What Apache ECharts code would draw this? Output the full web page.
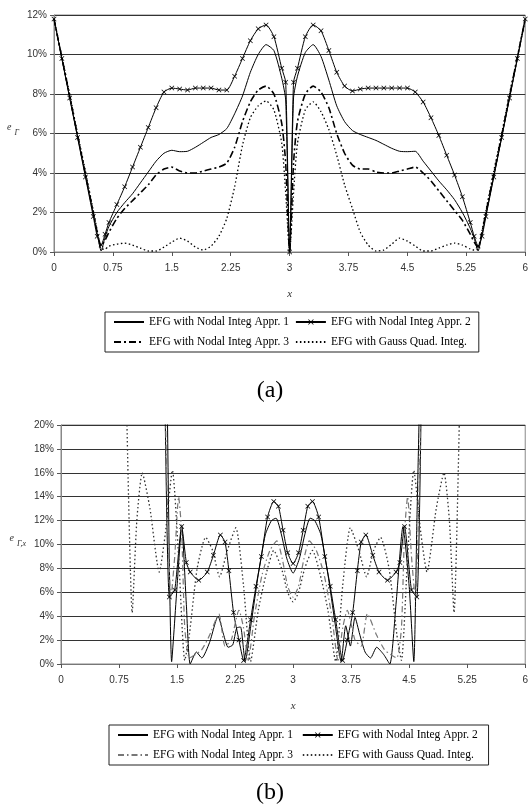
<!DOCTYPE html>
<html>
<head>
<meta charset="utf-8">
<title>EFG error plots (a) and (b)</title>
<script src="https://cdn.jsdelivr.net/npm/echarts@6/dist/echarts.min.js"></script>
<style>
    html, body { margin: 0; padding: 0; background: #fff; }
    #chart { width: 531px; height: 810px; }
</style>
</head>
<body>
<div id="chart"></div>
<script>
(function () {
    'use strict';

    // ---- data: chart (a), e_Gamma in % along x ----
    var xA = [0, 0.1, 0.2, 0.3, 0.4, 0.5, 0.55, 0.6, 0.65, 0.7, 0.8, 0.9, 1.0, 1.1, 1.2, 1.3, 1.4, 1.5, 1.6, 1.7,
        1.8, 1.9, 2.0, 2.1, 2.2, 2.3, 2.4, 2.5, 2.6, 2.7, 2.8, 2.9, 2.95, 3.0,
        3.05, 3.1, 3.2, 3.3, 3.4, 3.5, 3.6, 3.7, 3.8, 3.9, 4.0, 4.1, 4.2, 4.3, 4.4, 4.5, 4.6, 4.7,
        4.8, 4.9, 5.0, 5.1, 5.2, 5.3, 5.35, 5.4, 5.45, 5.5, 5.6, 5.7, 5.8, 5.9, 6.0];

    var appr1A = [11.8, 9.8, 7.8, 5.85, 3.9, 1.95, 0.95, 0.05, 0.75, 1.3, 2.0, 2.5, 2.95, 3.5, 4.05, 4.6, 5.0, 5.15, 5.08, 5.1,
        5.3, 5.55, 5.8, 5.95, 6.25, 7.0, 7.9, 9.1, 10.0, 10.5, 10.2, 8.8, 7.7, 0,
        7.8, 8.9, 10.1, 10.5, 9.9, 8.7, 7.4, 6.6, 6.15, 5.95, 5.8, 5.65, 5.45, 5.25, 5.1, 5.08, 5.1, 4.6,
        4.1, 3.6, 3.15, 2.65, 2.0, 1.2, 0.7, 0.05, 0.9, 1.9, 3.85, 5.8, 7.8, 9.8, 11.8];

    var appr2A = [11.8, 9.8, 7.8, 5.8, 3.8, 1.8, 0.8, 0.35, 0.9, 1.5, 2.4, 3.3, 4.3, 5.3, 6.3, 7.3, 8.1, 8.3, 8.25, 8.2,
        8.3, 8.3, 8.3, 8.2, 8.2, 8.9, 9.8, 10.7, 11.3, 11.5, 10.9, 9.3, 8.6, 0,
        8.6, 9.3, 10.9, 11.5, 11.2, 10.2, 9.1, 8.4, 8.15, 8.25, 8.3, 8.3, 8.3, 8.3, 8.3, 8.3, 8.1, 7.6,
        6.8, 5.9, 4.9, 3.9, 2.8, 1.5, 0.8, 0.3, 0.8, 1.8, 3.8, 5.8, 7.8, 9.8, 11.8];

    var appr3A = [11.8, 9.85, 7.9, 5.9, 3.95, 2.0, 1.0, 0.3, 0.6, 1.0, 1.7, 2.2, 2.6, 3.0, 3.4, 3.9, 4.2, 4.3, 4.1, 4.0,
        4.0, 4.1, 4.2, 4.3, 4.5, 5.3, 6.6, 7.6, 8.2, 8.4, 8.0, 6.5, 4.5, 0,
        4.5, 6.6, 8.0, 8.4, 8.1, 7.3, 6.0, 5.0, 4.4, 4.2, 4.2, 4.05, 4.0, 4.0, 4.1, 4.2, 4.3, 4.0,
        3.6, 3.1, 2.6, 2.1, 1.6, 0.9, 0.5, 0.25, 1.0, 2.0, 3.95, 5.9, 7.9, 9.85, 11.8];

    var gaussA = [11.8, 9.9, 8.0, 6.0, 4.1, 2.1, 1.1, 0.15, 0.15, 0.3, 0.4, 0.45, 0.35, 0.2, 0.05, 0.05, 0.25, 0.5, 0.7, 0.55,
        0.25, 0.1, 0.3, 0.8, 1.7, 3.3, 5.4, 6.8, 7.4, 7.65, 7.2, 5.5, 3.0, 0,
        3.0, 5.5, 7.2, 7.6, 7.1, 6.2, 4.9, 3.4, 2.2, 1.0, 0.35, 0.05, 0.1, 0.4, 0.7, 0.55, 0.3, 0.05,
        0.05, 0.2, 0.35, 0.45, 0.35, 0.15, 0.1, 0.15, 1.1, 2.1, 4.1, 6.0, 8.0, 9.9, 11.8];

    // ---- data: chart (b), e_Gamma,x in % (values above 20 run off the top) ----
    var appr1Bx = [1.37, 1.43, 1.50, 1.56, 1.62, 1.67, 1.75, 1.82, 1.92, 2.03, 2.10, 2.16, 2.22, 2.27, 2.32, 2.38,
        2.46, 2.55, 2.64, 2.72, 2.78, 2.85, 2.92, 3.00, 3.08, 3.15, 3.22, 3.28, 3.36, 3.45, 3.54, 3.62,
        3.68, 3.74, 3.80, 3.86, 3.93, 4.00, 4.08, 4.17, 4.25, 4.33, 4.42, 4.50, 4.56, 4.60, 4.64];
    var appr1By = [24, 0.2, 6.5, 11.5, 5.0, 0.0, 1.0, 0.5, 1.8, 4.0, 2.5, 1.4, 1.6, 3.0, 3.1, 0.2,
        3.5, 7.5, 10.8, 12.0, 12.2, 10.8, 8.8, 7.6, 8.8, 10.8, 12.2, 12.0, 10.8, 7.5, 3.5, 0.2,
        3.2, 1.5, 3.9, 2.5, 1.0, 0.5, 1.4, 0.8, 0.0, 5.0, 11.5, 6.5, 0.2, 12, 24];

    var appr2Bx = [1.34, 1.40, 1.47, 1.56, 1.62, 1.67, 1.78, 1.89, 1.97, 2.06, 2.12, 2.17, 2.23, 2.30, 2.36, 2.45,
        2.52, 2.59, 2.67, 2.75, 2.81, 2.87, 2.93, 3.00, 3.07, 3.13, 3.19, 3.25, 3.33, 3.41, 3.48, 3.55,
        3.64, 3.70, 3.77, 3.83, 3.88, 3.94, 4.03, 4.11, 4.22, 4.33, 4.38, 4.44, 4.53, 4.60, 4.66];
    var appr2By = [24, 5.6, 6.2, 11.5, 8.5, 7.7, 7.0, 7.7, 9.1, 10.8, 10.2, 7.8, 4.3, 2.0, 0.3, 3.7,
        6.5, 9.0, 12.3, 13.6, 13.2, 11.2, 9.3, 8.4, 9.3, 11.2, 13.2, 13.6, 12.3, 9.0, 6.5, 3.7,
        0.3, 2.0, 4.3, 7.8, 10.2, 10.8, 9.1, 7.7, 7.0, 7.7, 8.5, 11.5, 6.2, 5.6, 24];

    var appr3Bx = [1.34, 1.38, 1.42, 1.47, 1.52, 1.56, 1.60, 1.66, 1.74, 1.82, 1.92, 2.04, 2.12, 2.20, 2.30, 2.36,
        2.42, 2.50, 2.60, 2.70, 2.79, 2.86, 2.93, 3.00, 3.07, 3.14, 3.21, 3.30, 3.40, 3.50, 3.58, 3.64,
        3.70, 3.80, 3.88, 3.96, 4.08, 4.18, 4.26, 4.34, 4.40, 4.44, 4.48, 4.53, 4.58, 4.62, 4.66];
    var appr3By = [24, 12, 5.5, 9, 14, 11, 3, 0.5, 0.8, 1.2, 2.4, 4.2, 1.5, 2.0, 4.5, 3.0,
        0.3, 4.0, 7.5, 9.5, 10.3, 8.8, 6.5, 5.6, 6.5, 8.8, 10.3, 9.5, 7.5, 4.0, 0.3, 3.0,
        4.5, 2.0, 1.5, 4.2, 2.4, 1.2, 0.8, 0.5, 3, 11, 14, 9, 5.5, 12, 24];

    var gaussBx = [0.84, 0.92, 0.98, 1.05, 1.15, 1.27, 1.35, 1.44, 1.52, 1.60, 1.66, 1.76, 1.87, 1.96, 2.05, 2.15,
        2.26, 2.36, 2.45, 2.55, 2.65, 2.75, 2.85, 2.93, 3.00, 3.07, 3.15, 3.25, 3.35, 3.45, 3.55, 3.64,
        3.74, 3.85, 3.95, 4.04, 4.13, 4.24, 4.34, 4.40, 4.48, 4.56, 4.65, 4.73, 4.85, 4.95, 5.02, 5.08, 5.16];
    var gaussBy = [24, 4.3, 12, 16, 13, 7.7, 11, 16.2, 9, 0.3, 2.5, 8, 10.6, 9.5, 7.3, 9.5,
        11.4, 6.5, 0.2, 4.5, 7.5, 9.5, 8.0, 6.0, 5.2, 6.0, 8.0, 9.5, 7.5, 4.5, 0.2, 6.5,
        11.4, 9.5, 7.3, 9.5, 10.6, 8, 2.5, 0.3, 9, 16.2, 11, 7.7, 13, 16, 12, 4.3, 24];

    // tick labels
    var xTicks = [0, 0.75, 1.5, 2.25, 3, 3.75, 4.5, 5.25, 6];

    var names = ['EFG with Nodal Integ Appr. 1', 'EFG with Nodal Integ Appr. 2',
        'EFG with Nodal Integ Appr. 3', 'EFG with Gauss Quad. Integ.'];
    // chart (b) keeps its own legend styles, so its names carry a trailing space
    var namesB = names.map(function (n) { return n + ' '; });

    function pairs(xs, ys) {
        var out = [];
        for (var i = 0; i < xs.length; i++) {
            out.push([xs[i], ys[i]]);
        }
        return out;
    }

    var SERIF = '"Liberation Serif", "Times New Roman", serif';
    var SANS = '"Liberation Sans", Arial, sans-serif';
    var CROSS = 'path://M0,1L1,0L5,4L9,0L10,1L6,5L10,9L9,10L5,6L1,10L0,9L4,5Z';

    function xAxisOf(idx) {
        return {
            gridIndex: idx,
            type: 'value',
            min: xTicks[0],
            max: xTicks[xTicks.length - 1],
            interval: 0.75,
            name: 'x',
            nameLocation: 'middle',
            nameGap: 37,
            nameTextStyle: { fontFamily: SERIF, fontStyle: 'italic', fontSize: 11, color: '#333' },
            axisLine: { lineStyle: { color: '#777', width: 1 } },
            axisTick: { show: true, length: 4, lineStyle: { color: '#555' } },
            axisLabel: { margin: 11, fontFamily: SANS, fontSize: 10, color: '#333' },
            splitLine: { show: false }
        };
    }

    function yAxisOf(idx, max, sub) {
        return {
            gridIndex: idx,
            type: 'value',
            min: 0,
            max: max,
            interval: 2,
            name: '{e|e}{s|' + sub + '}',
            nameLocation: 'middle',
            nameRotate: 0,
            nameGap: 35,
            nameTextStyle: {
                padding: [0, 0, 8, 0],
                rich: {
                    e: { fontFamily: SERIF, fontStyle: 'italic', fontSize: 10, color: '#333', verticalAlign: 'top', lineHeight: 14 },
                    s: { fontFamily: SERIF, fontStyle: 'italic', fontSize: 8, color: '#333', verticalAlign: 'bottom', lineHeight: 14, padding: [0, 0, 0, 3] }
                }
            },
            axisLine: { show: true, lineStyle: { color: '#888', width: 1 } },
            axisTick: { show: true, length: 4, lineStyle: { color: '#555' } },
            axisLabel: { margin: 7, formatter: '{value}%', fontFamily: SANS, fontSize: 10, color: '#333' },
            splitLine: { show: true, lineStyle: { color: '#333', width: 1 } }
        };
    }

    function lineSeries(name, idx, data, color, width, dash, marker) {
        var s = {
            type: 'line',
            name: name,
            xAxisIndex: idx,
            yAxisIndex: idx,
            data: data,
            smooth: 0.2,
            symbol: 'none',
            itemStyle: { color: color },
            lineStyle: { color: color, width: width, type: dash || 'solid' },
            emphasis: { disabled: true },
            clip: true
        };
        if (marker) {
            s.symbol = CROSS;
            s.symbolSize = 5;
            s.showSymbol = true;
        }
        return s;
    }

    // only the second entry shows its marker in the legend sample
    function legendItems(list) {
        return list.map(function (n, i) {
            return i === 1 ? { name: n } : { name: n, itemStyle: { opacity: 0 } };
        });
    }

    function legendOf(top, left, data) {
        return {
            top: top,
            left: left,
            width: 380,
            orient: 'horizontal',
            itemWidth: 30,
            itemHeight: 7,
            itemGap: 6,
            padding: [3, 8, 3, 8],
            borderColor: '#222',
            borderWidth: 1,
            data: legendItems(data),
            textStyle: { fontFamily: SERIF, fontSize: 11.5, color: '#000', lineHeight: 14 },
            selectedMode: false
        };
    }

    var myChart = echarts.init(document.getElementById('chart'));
    var option = {
        animation: false,
        backgroundColor: '#fff',
        grid: [
            { left: 54, right: 2, top: 15, height: 237, show: true, borderColor: '#888', borderWidth: 1 },
            { left: 61, right: 2, top: 425, height: 239, show: true, borderColor: '#888', borderWidth: 1 }
        ],
        xAxis: [xAxisOf(0), xAxisOf(1)],
        yAxis: [yAxisOf(0, 12, 'Γ'), yAxisOf(1, 20, 'Γ,x')],
        legend: [legendOf(312, 105, names), legendOf(725, 109, namesB)],
        series: [
            lineSeries(names[0], 0, pairs(xA, appr1A), '#000', 1),
            lineSeries(names[1], 0, pairs(xA, appr2A), '#000', 1, null, true),
            lineSeries(names[2], 0, pairs(xA, appr3A), '#000', 1.6, [7, 3, 2, 3]),
            lineSeries(names[3], 0, pairs(xA, gaussA), '#000', 1.3, [1.5, 2.5]),

            lineSeries(namesB[0], 1, pairs(appr1Bx, appr1By), '#000', 1),
            lineSeries(namesB[1], 1, pairs(appr2Bx, appr2By), '#000', 1, null, true),
            lineSeries(namesB[2], 1, pairs(appr3Bx, appr3By), '#777', 1.2, [6, 3, 1.5, 3]),
            lineSeries(namesB[3], 1, pairs(gaussBx, gaussBy), '#333', 1.3, [1.5, 2.5])
        ],
        graphic: [
            { type: 'text', x: 270, y: 391, style: { text: '(a)', font: '24px ' + SERIF, fill: '#000', textAlign: 'center', textVerticalAlign: 'middle' } },
            { type: 'text', x: 270, y: 793, style: { text: '(b)', font: '24px ' + SERIF, fill: '#000', textAlign: 'center', textVerticalAlign: 'middle' } }
        ]
    };

    myChart.setOption(option);
})();
</script>
</body>
</html>
